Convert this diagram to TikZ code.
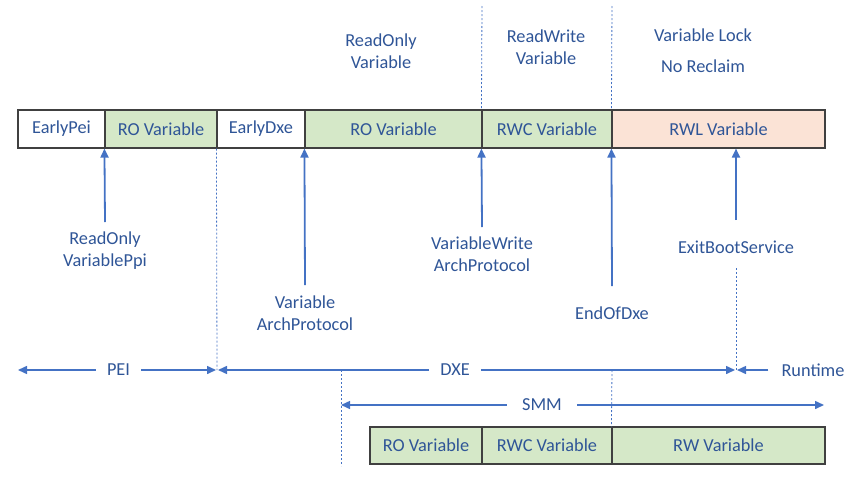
\documentclass[tikz,border=0pt]{standalone}
\usepackage{fontspec}
\setmainfont{Carlito}
\usetikzlibrary{arrows.meta}
\definecolor{txtblue}{HTML}{2F5597}
\definecolor{arrblue}{HTML}{4472C4}
\definecolor{boxgreen}{HTML}{D5E8C8}
\definecolor{boxorange}{HTML}{FBE3D6}
\definecolor{boxline}{HTML}{404040}
\tikzset{
  seg/.style={draw=boxline, line width=1.1pt, inner sep=0pt, minimum height=38pt, text=txtblue, font=\fontsize{18.3}{21}\selectfont},
  greenseg/.style={seg, fill=boxgreen},
  whiteseg/.style={seg, fill=white},
  orangeseg/.style={seg, fill=boxorange},
  lbl/.style={text=txtblue, align=center, inner sep=2pt, font=\fontsize{18.3}{22.5}\selectfont},
  evarrow/.style={draw=arrblue, line width=1.8pt, -{Triangle[length=9pt,width=8pt]}},
  spanarrow/.style={draw=arrblue, line width=1.5pt, -{Triangle[length=9pt,width=8pt]}},
  guide/.style={draw=arrblue, line width=0.8pt, dash pattern=on 2pt off 2pt},
}
\begin{document}
\begin{tikzpicture}[x=1pt,y=-1pt]
\useasboundingbox (0,0) rectangle (860,477);
% top bar
\node[whiteseg, minimum width=87pt] (epei) at (61.5,129) {EarlyPei};
\node[greenseg, minimum width=112pt] (ro1) at (161,129) {RO Variable};
\node[whiteseg, minimum width=88pt] (edxe) at (261,129) {EarlyDxe};
\node[greenseg, minimum width=177pt] (ro2) at (393.5,129) {RO Variable};
\node[greenseg, minimum width=130pt] (rwc1) at (547,129) {RWC Variable};
\node[orangeseg, minimum width=213pt] (rwl) at (718.5,129) {RWL Variable};
% bottom bar
\node[greenseg, minimum width=112pt, minimum height=37pt] (sro) at (426,445.5) {RO Variable};
\node[greenseg, minimum width=130pt, minimum height=37pt] (srwc) at (547,445.5) {RWC Variable};
\node[greenseg, minimum width=213pt, minimum height=37pt] (srw) at (718.5,445.5) {RW Variable};
% top labels
\node[lbl] (tro) at (381,51) {ReadOnly\\Variable};
\node[lbl] (trw) at (546,47) {ReadWrite\\Variable};
\node[lbl] (tlock) at (703,35) {Variable Lock};
\node[lbl] (tnorec) at (703,66) {No Reclaim};
% top guides
\coordinate (g1t) at (482,6);
\coordinate (g2t) at (612,6);
\draw[guide] (g1t) -- (rwc1.north west);
\draw[guide] (g2t) -- (rwl.north west);
% event labels
\node[lbl] (ev1) at (105,250.5) {ReadOnly\\VariablePpi};
\node[lbl] (ev2) at (305,313) {Variable\\ArchProtocol};
\node[lbl] (ev3) at (482,254) {VariableWrite\\ArchProtocol};
\node[lbl] (ev4) at (612,313) {EndOfDxe};
\node[lbl] (ev5) at (736,247) {ExitBootService};
\coordinate (a1) at (105,222);
\coordinate (a2) at (305,285);
\coordinate (a3) at (482,227);
\coordinate (a4) at (612,286);
\coordinate (a5) at (736,220);
\draw[evarrow] (a1) -- (ro1.south west);
\draw[evarrow] (a2) -- (ro2.south west);
\draw[evarrow] (a3) -- (rwc1.south west);
\draw[evarrow] (a4) -- (rwl.south west);
\draw[evarrow] (a5) -- (a5 |- rwl.south);
% phase row
\node[lbl, inner sep=11pt] (pei) at (118.5,370) {PEI};
\node[lbl, inner sep=11pt] (dxe) at (455,370) {DXE};
\node[lbl, inner sep=13pt] (rt) at (813,370) {Runtime};
\node[lbl, inner sep=15pt] (smm) at (542,405) {SMM};
\coordinate (peiL) at (18,370);
\coordinate (peiR) at (216,370);
\coordinate (dxeL) at (218,370);
\coordinate (dxeR) at (735,370);
\coordinate (rtL) at (737,370);
\coordinate (smmL) at (341,405);
\coordinate (smmR) at (824,405);
\draw[spanarrow] (pei.west) -- (peiL);
\draw[spanarrow] (pei.east) -- (peiR);
\draw[spanarrow] (dxe.west) -- (dxeL);
\draw[spanarrow] (dxe.east) -- (dxeR);
\draw[spanarrow] (rt.west) -- (rtL);
\draw[spanarrow] (smm.west) -- (smmL);
\draw[spanarrow] (smm.east) -- (smmR);
% guides
\coordinate (g3b) at (217,370);
\coordinate (g4t) at (736,268);
\coordinate (g4b) at (736,370);
\coordinate (g5t) at (341,370);
\coordinate (g5b) at (341,466);
\coordinate (g6t) at (612,370);
\draw[guide] (edxe.south west) -- (g3b);
\draw[guide] (g4t) -- (g4b);
\draw[guide] (g5t) -- (g5b);
\draw[guide] (g6t) -- (srw.north west);
\end{tikzpicture}
\end{document}
